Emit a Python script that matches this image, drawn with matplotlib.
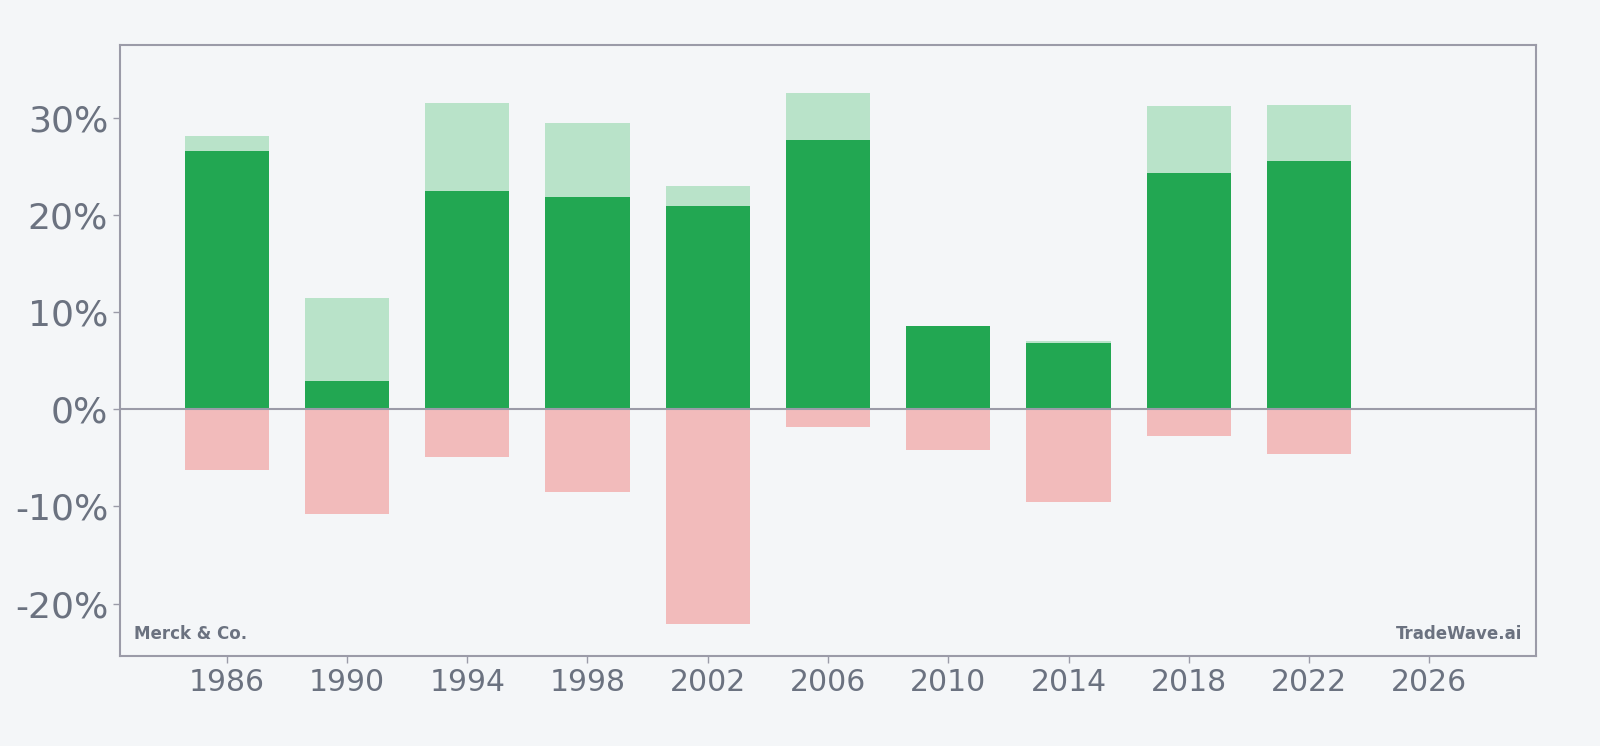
import matplotlib.pyplot as plt
from matplotlib.ticker import FuncFormatter

# values (percent)
years = [1986, 1990, 1994, 1998, 2002, 2006, 2010, 2014, 2018, 2022]
close_ret = [26.6, 2.95, 22.5, 21.9, 20.9, 27.7, 8.6, 6.8, 24.3, 25.6]
high_ret = [28.1, 11.5, 31.5, 29.5, 23.0, 32.6, 8.6, 7.0, 31.2, 31.3]
low_ret = [-6.3, -10.8, -4.9, -8.5, -22.1, -1.8, -4.2, -9.5, -2.7, -4.6]

bg = '#f4f6f8'
text_col = '#6b7280'
spine_col = '#9b9ba8'

fig = plt.figure(figsize=(16, 7.46), dpi=100, facecolor=bg)
ax = fig.add_axes([0.075, 0.1206, 0.885, 0.8191])
ax.set_facecolor(bg)

w = 2.8
ax.bar(years, high_ret, width=w, color='#b9e3c9', zorder=2)
ax.bar(years, close_ret, width=w, color='#22a752', zorder=3)
ax.bar(years, low_ret, width=w, color='#f2bbbb', zorder=2)
ax.axhline(0, color=spine_col, lw=1.5, zorder=4)

ax.set_xlim(1982.45, 2029.55)
ax.set_ylim(-25.4, 37.5)
ax.set_xticks(list(range(1986, 2027, 4)))
ax.set_yticks([-20, -10, 0, 10, 20, 30])
ax.yaxis.set_major_formatter(FuncFormatter(lambda v, p: f'{v:.0f}%'))

ax.tick_params(axis='y', labelsize=26, colors=spine_col, labelcolor=text_col, length=5, width=1)
ax.tick_params(axis='x', labelsize=21.5, colors=spine_col, labelcolor=text_col, length=5, width=1)
for s in ax.spines.values():
    s.set_color(spine_col)
    s.set_linewidth(1.5)

ax.text(0.01, 0.022, 'Merck & Co.', transform=ax.transAxes, fontsize=12,
        fontweight='bold', color=text_col, ha='left', va='bottom')
ax.text(0.99, 0.022, 'TradeWave.ai', transform=ax.transAxes, fontsize=12,
        fontweight='bold', color=text_col, ha='right', va='bottom')

fig.savefig('out.png', dpi=100, facecolor=bg)
